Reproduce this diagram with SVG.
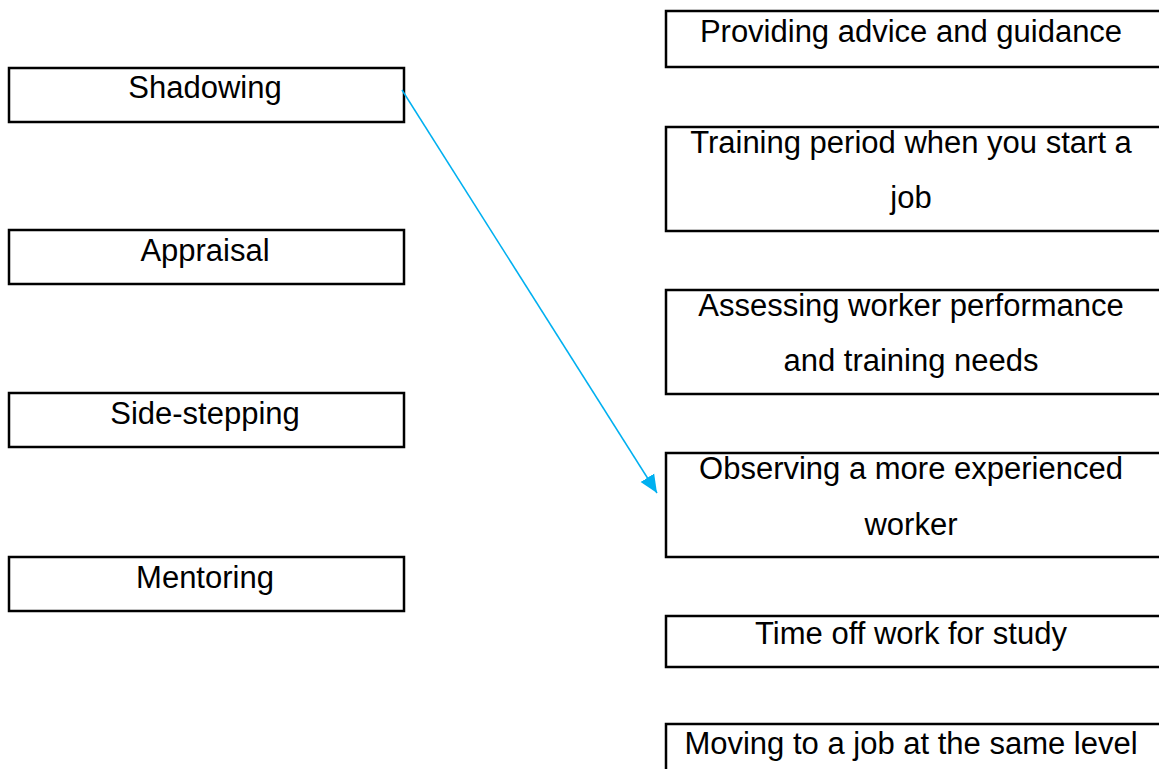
<svg xmlns="http://www.w3.org/2000/svg" width="1159" height="769" viewBox="0 0 1159 769">
<style>
.box{fill:#fff;stroke:#000;stroke-width:2.5}
.t{font-family:"Liberation Sans",Arial,sans-serif;font-size:31px;fill:#000;text-anchor:middle}
.c{stroke:#00b0f0;stroke-width:1.5;fill:none}
</style>
<defs>
<marker id="ah" markerWidth="20" markerHeight="20" refX="18" refY="10" orient="auto" markerUnits="userSpaceOnUse">
<path d="M0,2 L18,10 L0,18 z" fill="#00b0f0"/>
</marker>
</defs>
<rect width="1159" height="769" fill="#fff"/>
<g id="n-shadowing"><rect class="box" x="9" y="68" width="395" height="54"/><text class="t" x="205" y="98">Shadowing</text></g>
<g id="n-appraisal"><rect class="box" x="9" y="230" width="395" height="54"/><text class="t" x="205" y="261">Appraisal</text></g>
<g id="n-sidestepping"><rect class="box" x="9" y="393" width="395" height="54"/><text class="t" x="205" y="424">Side-stepping</text></g>
<g id="n-mentoring"><rect class="box" x="9" y="557" width="395" height="54"/><text class="t" x="205" y="588">Mentoring</text></g>
<g id="n-advice"><rect class="box" x="666" y="11" width="500" height="56"/><text class="t" x="911" y="42">Providing advice and guidance</text></g>
<g id="n-training"><rect class="box" x="666" y="127" width="500" height="104"/><text class="t" x="911" y="153">Training period when you start a</text><text class="t" x="911" y="208">job</text></g>
<g id="n-assessing"><rect class="box" x="666" y="290" width="500" height="104"/><text class="t" x="911" y="316">Assessing worker performance</text><text class="t" x="911" y="371">and training needs</text></g>
<g id="n-observing"><rect class="box" x="666" y="453" width="500" height="104"/><text class="t" x="911" y="479">Observing a more experienced</text><text class="t" x="911" y="535">worker</text></g>
<g id="n-timeoff"><rect class="box" x="666" y="616" width="500" height="51"/><text class="t" x="911" y="644">Time off work for study</text></g>
<g id="n-moving"><rect class="box" x="666" y="724" width="500" height="60"/><text class="t" x="911" y="754">Moving to a job at the same level</text></g>
<g id="connectors"><line class="c" x1="402" y1="90" x2="657" y2="493" marker-end="url(#ah)"/></g>
</svg>
